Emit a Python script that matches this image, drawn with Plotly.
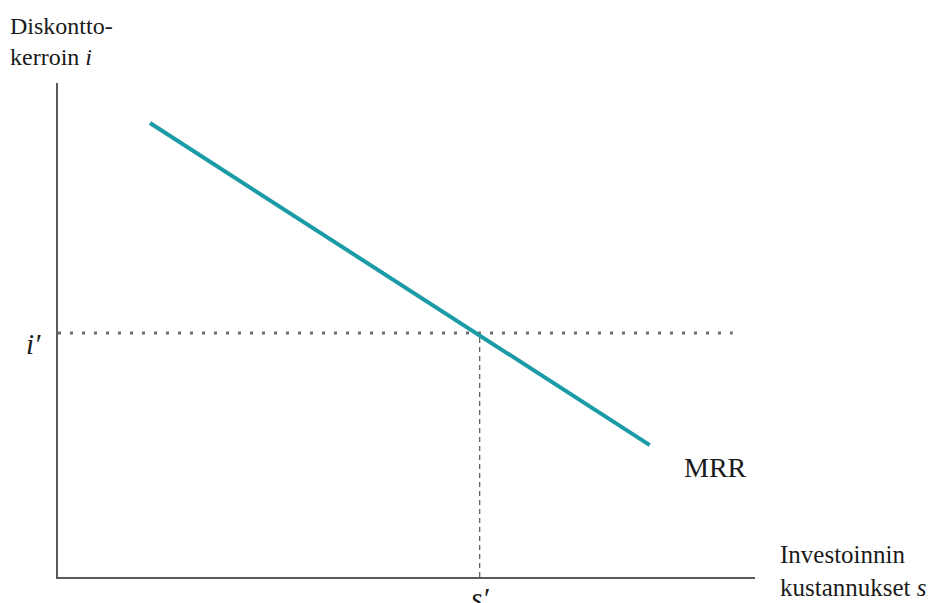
import plotly.graph_objects as go

# Data (in arbitrary chart units)
mrr_x = [1.32, 8.49]
mrr_y = [9.19, 2.67]
s_prime = 6.05
i_prime = 4.94
dotted_end_x = 9.68
x_range = [0, 10]
y_range = [0, 10]

# page has an 8px body margin; compensate
OFF = 8
W, H = 939 - OFF, 603 - OFF
ML, MT = 58 - OFF, 83 - OFF
PW, PH = 697, 494
MR = W - ML - PW
MB = H - MT - PH

def px(xp):  # page pixel x -> paper
    return (xp - OFF - ML) / PW

def py(yp):  # page pixel y -> paper
    return (MT + PH - (yp - OFF)) / PH

FONT = "Liberation Serif, DejaVu Serif, serif"
TXT = "#1a1a1a"

fig = go.Figure()

# horizontal dotted line at i'
fig.add_trace(go.Scatter(
    x=[0, dotted_end_x], y=[i_prime, i_prime], mode="lines",
    line=dict(color="#6e6e6e", width=3, dash="3px,9px"),
    hoverinfo="skip", showlegend=False))

# vertical dashed line at s'
fig.add_trace(go.Scatter(
    x=[s_prime, s_prime], y=[0, i_prime], mode="lines",
    line=dict(color="#555555", width=1.2, dash="5px,4px"),
    hoverinfo="skip", showlegend=False))

# MRR line
fig.add_trace(go.Scatter(
    x=mrr_x, y=mrr_y, mode="lines",
    line=dict(color="#1a9ba6", width=4),
    hoverinfo="skip", showlegend=False))

annotations = [
    dict(x=px(8), y=py(11), xanchor="left", yanchor="top", align="left",
         text="Diskontto-<br>kerroin <i>i</i>", font=dict(size=24)),
    dict(x=px(33), y=py(344), xanchor="center", yanchor="middle",
         text="<i>i′</i>", font=dict(size=29)),
    dict(x=s_prime, xref="x", y=py(580), xanchor="center", yanchor="top",
         text="<i>s′</i>", font=dict(size=29)),
    dict(x=px(682), y=py(467), xanchor="left", yanchor="middle",
         text="MRR", font=dict(size=28)),
    dict(x=px(778), y=py(539), xanchor="left", yanchor="top", align="left",
         text="Investoinnin<br>kustannukset <i>s</i>", font=dict(size=25)),
]
for a in annotations:
    a.setdefault("xref", "paper")
    a.setdefault("yref", "paper")
    a["showarrow"] = False
    a["font"]["family"] = FONT
    a["font"]["color"] = TXT

fig.update_layout(
    width=W, height=H,
    margin=dict(l=ML, r=MR, t=MT, b=MB, pad=0),
    paper_bgcolor="white", plot_bgcolor="white",
    xaxis=dict(range=x_range, showgrid=False, zeroline=False, showticklabels=False,
               ticks="", showline=True, linecolor="#5a5a5a", linewidth=1.5, fixedrange=True),
    yaxis=dict(range=y_range, showgrid=False, zeroline=False, showticklabels=False,
               ticks="", showline=True, linecolor="#5a5a5a", linewidth=1.5, fixedrange=True),
    annotations=annotations,
)

fig.write_html("out.html")
